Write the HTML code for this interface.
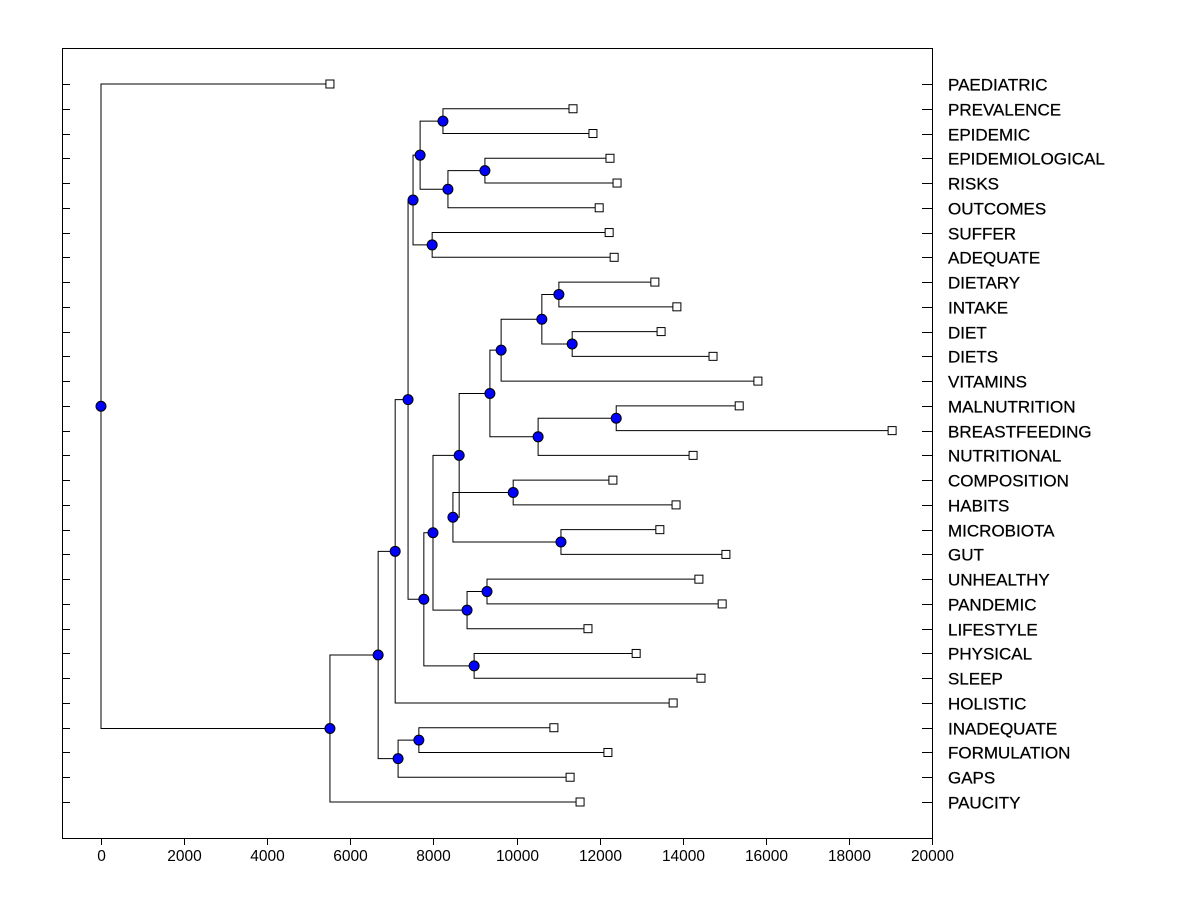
<!DOCTYPE html>
<html><head><meta charset="utf-8"><style>
body{margin:0;background:#fff;}
svg{display:block;font-family:"Liberation Sans",Arial,sans-serif;}
</style></head><body>
<svg id="chart" width="1200" height="900" xmlns="http://www.w3.org/2000/svg"></svg>
<script>
const labels=["PAEDIATRIC","PREVALENCE","EPIDEMIC","EPIDEMIOLOGICAL","RISKS","OUTCOMES","SUFFER","ADEQUATE","DIETARY","INTAKE","DIET","DIETS","VITAMINS","MALNUTRITION","BREASTFEEDING","NUTRITIONAL","COMPOSITION","HABITS","MICROBIOTA","GUT","UNHEALTHY","PANDEMIC","LIFESTYLE","PHYSICAL","SLEEP","HOLISTIC","INADEQUATE","FORMULATION","GAPS","PAUCITY"];
const leafValues=[5510,11360,11840,12250,12420,11990,12230,12350,13330,13860,13480,14730,15810,15360,19040,14250,12320,13840,13450,15040,14390,14950,11720,12880,14440,13770,10900,12200,11290,11530];
// merges: [childA, childB, height]; leaves 0..29, clusters 30+
const merges=[
[1,2,8230],[3,4,9240],[31,5,8350],[30,32,7680],[6,7,7970],[33,34,7510],
[8,9,11020],[10,11,11340],[36,37,10610],[38,12,9630],[13,14,12400],[40,15,10520],
[39,41,9360],[16,17,9920],[18,19,11070],[43,44,8470],[42,45,8620],[20,21,9290],
[47,22,8810],[46,48,7990],[23,24,8980],[49,50,7770],[35,51,7390],[52,25,7080],
[26,27,7650],[54,28,7150],[53,55,6670],[56,29,5510],[0,57,0]];
const xTicks=[0,2000,4000,6000,8000,10000,12000,14000,16000,18000,20000];

const svg=document.getElementById('chart');
const NS='http://www.w3.org/2000/svg';
const X=v=>101+v*0.04155;
const Y=i=>84+i*(718/29);
function mk(t,a,name){const e=document.createElementNS(NS,t);for(const k in a)e.setAttribute(k,a[k]);


svg.appendChild(e);return e;}
mk('rect',{x:62.5,y:48.5,width:870,height:790,fill:'none',stroke:'#000','stroke-width':1},'plot-frame');
xTicks.forEach(t=>{const x=Math.round(X(t))+0.5;
mk('line',{x1:x,y1:838,x2:x,y2:845,stroke:'#000'},'x-tick');
const tx=mk('text',{x:x,y:861,'font-size':15.5,'text-anchor':'middle'},'x-tick-label');tx.textContent=t;});
labels.forEach((l,i)=>{const y=Math.round(Y(i))+0.5;
mk('line',{x1:62,y1:y,x2:70,y2:y,stroke:'#000'},'y-tick');
mk('line',{x1:922,y1:y,x2:932,y2:y,stroke:'#000'},'y-tick-right');
const tx=mk('text',{x:948,y:y+6,'font-size':17,stroke:'#000','stroke-width':0.25},'leaf-label');tx.textContent=l;});
const pos=[];
labels.forEach((l,i)=>pos.push({x:X(leafValues[i]),y:Y(i)}));
const dots=[];
merges.forEach(m=>{const a=pos[m[0]],b=pos[m[1]],x=X(m[2]);
const p=`M${a.x},${a.y}H${x}V${b.y}H${b.x}`;
mk('path',{d:p,fill:'none',stroke:'#000','stroke-width':1},'branch');
pos.push({x:x,y:(a.y+b.y)/2});dots.push(pos[pos.length-1]);});
labels.forEach((l,i)=>{const p=pos[i];
mk('rect',{x:p.x-4,y:p.y-4,width:8,height:8,fill:'#fff',stroke:'#000'},'leaf-marker');});
dots.forEach(p=>mk('circle',{cx:p.x,cy:p.y,r:5,fill:'#0000ff',stroke:'#000'},'merge-node'));
</script>
</body></html>
